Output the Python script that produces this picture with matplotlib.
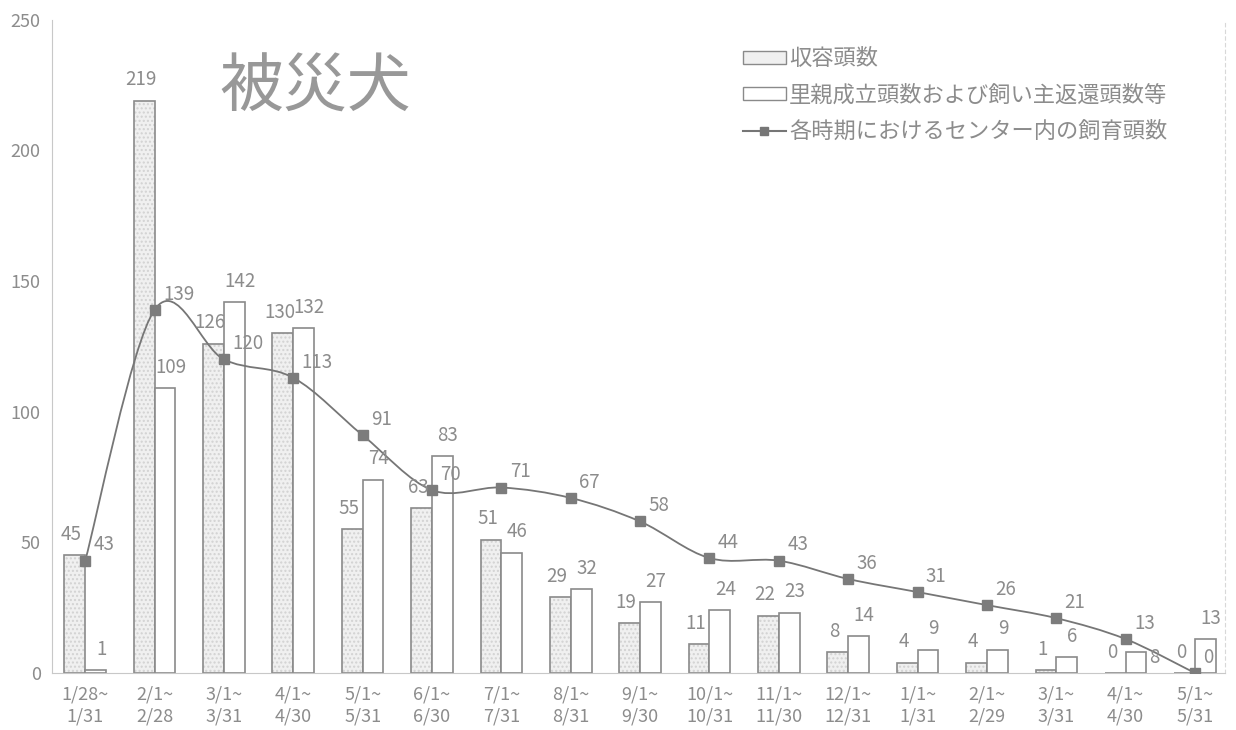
import numpy as np
import matplotlib.pyplot as plt
from matplotlib.path import Path
from matplotlib.patches import PathPatch, Patch
from matplotlib.lines import Line2D

plt.rcParams['font.family'] = ['Noto Sans CJK JP', 'DejaVu Sans']

periods = [
    "1/28~\n1/31", "2/1~\n2/28", "3/1~\n3/31", "4/1~\n4/30", "5/1~\n5/31",
    "6/1~\n6/30", "7/1~\n7/31", "8/1~\n8/31", "9/1~\n9/30", "10/1~\n10/31",
    "11/1~\n11/30", "12/1~\n12/31", "1/1~\n1/31", "2/1~\n2/29", "3/1~\n3/31",
    "4/1~\n4/30", "5/1~\n5/31",
]
intake = [45, 219, 126, 130, 55, 63, 51, 29, 19, 11, 22, 8, 4, 4, 1, 0, 0]
returned = [1, 109, 142, 132, 74, 83, 46, 32, 27, 24, 23, 14, 9, 9, 6, 8, 13]
in_center = [43, 139, 120, 113, 91, 70, 71, 67, 58, 44, 43, 36, 31, 26, 21, 13, 0]

gray = "#8a8a8a"
text_gray = "#8c8c8c"
bar_w = 0.3

fig = plt.figure(figsize=(12.36, 7.3), dpi=100)
ax = fig.add_axes([0.042, 0.078, 0.949, 0.895])

x = np.arange(len(periods))
# dotted fill first, outline on top so the dots stay faint
ax.bar(x - bar_w / 2, intake, bar_w, color="#f0f0f0", edgecolor="#d2d2d2", linewidth=0,
       hatch="....", zorder=2)
ax.bar(x - bar_w / 2, intake, bar_w, facecolor="none", edgecolor=gray, linewidth=1.2, zorder=2)
ax.bar(x + bar_w / 2, returned, bar_w, color="white", edgecolor=gray, linewidth=1.2,
       zorder=2)


# smoothed line (bezier segments with catmull-rom tangents)
def smooth_path(xs, ys, k=1 / 6):
    pts = np.column_stack([xs, ys]).astype(float)
    verts = [pts[0]]
    codes = [Path.MOVETO]
    n = len(pts)
    for i in range(n - 1):
        p0 = pts[max(i - 1, 0)]
        p1 = pts[i]
        p2 = pts[i + 1]
        p3 = pts[min(i + 2, n - 1)]
        c1 = p1 + (p2 - p0) * k
        c2 = p2 - (p3 - p1) * k
        verts += [c1, c2, p2]
        codes += [Path.CURVE4] * 3
    return Path(verts, codes)


ax.add_patch(PathPatch(smooth_path(x, in_center), facecolor="none", edgecolor="#767676",
                       linewidth=1.3, zorder=3))
ax.plot(x, in_center, linestyle="none", marker="s", markersize=7, color="#7c7c7c", zorder=4)

lab = dict(fontsize=13.5, color=text_gray, zorder=5)
for xi, v in zip(x, intake):
    ax.text(xi - bar_w / 2 - 0.05, v + 4, str(v), ha="center", va="bottom", **lab)
for xi, v, c in zip(x, returned, in_center):
    if abs(v + 4 - c) < 8:
        # line label sits right above this bar, so put the value beside it
        ax.text(xi + bar_w + 0.04, v / 2 + 2, str(v), ha="left", va="center", **lab)
    else:
        ax.text(xi + bar_w / 2 + 0.08, v + 4, str(v), ha="center", va="bottom", **lab)
for xi, v in zip(x, in_center):
    ax.text(xi + 0.12, v + 2, str(v), ha="left", va="bottom", **lab)

ax.set_xlim(-0.48, 16.43)
ax.set_ylim(0, 250)
ax.set_yticks([0, 50, 100, 150, 200, 250])
ax.set_xticks(x)
ax.set_xticklabels(periods, linespacing=1.25)
ax.tick_params(length=0, colors=text_gray, labelsize=13)
ax.tick_params(axis="x", pad=9)
ax.tick_params(axis="y", pad=8)
ax.spines["top"].set_visible(False)
ax.spines["left"].set_color("#c8c8c8")
ax.spines["bottom"].set_color("#c8c8c8")
ax.spines["right"].set_color("#d8d8d8")
ax.spines["right"].set_linestyle((0, (3, 3)))

ax.text(0.143, 0.895, "被災犬", transform=ax.transAxes, fontsize=46, color="#989898",
        ha="left", va="center")

handles = [
    Patch(facecolor="#f0f0f0", edgecolor=gray, label="収容頭数"),
    Patch(facecolor="white", edgecolor=gray, label="里親成立頭数および飼い主返還頭数等"),
    Line2D([], [], color="#767676", marker="s", markersize=6, label="各時期におけるセンター内の飼育頭数"),
]
leg = ax.legend(handles=handles, loc="upper left", bbox_to_anchor=(0.58, 0.975), frameon=False,
                fontsize=16, handlelength=1.9, handleheight=0.55, labelspacing=0.6,
                handletextpad=0.15, borderpad=0)
for t in leg.get_texts():
    t.set_color(text_gray)

fig.savefig("out.png", dpi=100)
